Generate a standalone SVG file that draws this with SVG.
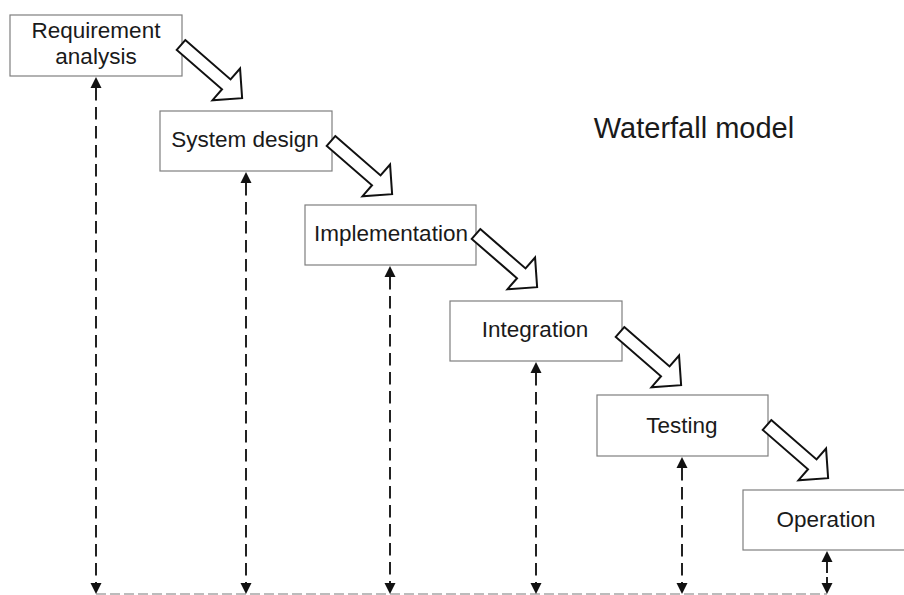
<svg xmlns="http://www.w3.org/2000/svg" width="904" height="595" viewBox="0 0 904 595">
  <style>
    .box { fill: #ffffff; stroke: #7f7f7f; stroke-width: 1.2; }
    .lbl { font-family: "Liberation Sans", Arial, sans-serif; font-size: 22.5px; fill: #1a1a1a; text-anchor: middle; }
    .title { font-family: "Liberation Sans", Arial, sans-serif; font-size: 29px; fill: #1a1a1a; text-anchor: middle; }
    .flow { fill: #ffffff; stroke: #111111; stroke-width: 2; stroke-linejoin: miter; }
    .trace { stroke: #222222; stroke-width: 2; stroke-dasharray: 12.5 6.5; fill: none; }
    .solid { stroke: #222222; stroke-width: 2; fill: none; }
    .base { stroke: #a6a6a6; stroke-width: 1.5; stroke-dasharray: 10 4; fill: none; }
    .head { fill: #111111; stroke: none; }
  </style>
  <defs>
    <!-- hollow block arrow, tail at origin, pointing along +x -->
    <path id="blockArrow" class="flow" d="M0,-6.5 L60,-6.5 L60,-21 L81,0 L60,21 L60,6.5 L0,6.5 Z"/>
    <!-- solid arrowheads, tip at origin -->
    <path id="tipUp" class="head" d="M0,0 L5.5,11 L-5.5,11 Z"/>
    <path id="tipDown" class="head" d="M0,0 L5.5,-11 L-5.5,-11 Z"/>
  </defs>

  <rect width="904" height="595" fill="#ffffff"/>

  <text class="title" x="694" y="138">Waterfall model</text>

  <!-- feedback traces from the baseline up to each phase -->
  <g id="connectors">
    <line class="base" x1="96" y1="594" x2="827" y2="594"/>

    <line class="trace" x1="96" y1="88" x2="96" y2="583"/>
    <use href="#tipUp" x="96" y="77"/>
    <use href="#tipDown" x="96" y="594"/>

    <line class="trace" x1="246" y1="183" x2="246" y2="583"/>
    <use href="#tipUp" x="246" y="172"/>
    <use href="#tipDown" x="246" y="594"/>

    <line class="trace" x1="390" y1="277" x2="390" y2="583"/>
    <use href="#tipUp" x="390" y="266"/>
    <use href="#tipDown" x="390" y="594"/>

    <line class="trace" x1="536" y1="373" x2="536" y2="583"/>
    <use href="#tipUp" x="536" y="362"/>
    <use href="#tipDown" x="536" y="594"/>

    <line class="trace" x1="682" y1="468" x2="682" y2="583"/>
    <use href="#tipUp" x="682" y="457"/>
    <use href="#tipDown" x="682" y="594"/>

    <line class="solid" x1="827" y1="561" x2="827" y2="573"/>
    <use href="#tipUp" x="827" y="551"/>
    <line class="solid" x1="827" y1="577" x2="827" y2="583"/>
    <use href="#tipDown" x="827" y="594"/>
  </g>

  <g id="requirement-analysis">
    <rect class="box" x="10" y="15" width="172" height="61"/>
    <text class="lbl" x="96" y="38">Requirement</text>
    <text class="lbl" x="96" y="64">analysis</text>
  </g>

  <g id="system-design">
    <rect class="box" x="160" y="111" width="172" height="60"/>
    <text class="lbl" x="245" y="147">System design</text>
  </g>

  <g id="implementation">
    <rect class="box" x="305" y="205" width="171" height="60"/>
    <text class="lbl" x="391" y="241">Implementation</text>
  </g>

  <g id="integration">
    <rect class="box" x="450" y="301" width="172" height="60"/>
    <text class="lbl" x="535" y="337">Integration</text>
  </g>

  <g id="testing">
    <rect class="box" x="597" y="395" width="171" height="61"/>
    <text class="lbl" x="682" y="433">Testing</text>
  </g>

  <g id="operation">
    <rect class="box" x="743" y="490" width="172" height="60"/>
    <text class="lbl" x="826" y="527">Operation</text>
  </g>

  <!-- phase-to-phase flow arrows -->
  <g id="flow-arrows">
    <use href="#blockArrow" transform="translate(181,45) rotate(41)"/>
    <use href="#blockArrow" transform="translate(331,141) rotate(41)"/>
    <use href="#blockArrow" transform="translate(476,234) rotate(41)"/>
    <use href="#blockArrow" transform="translate(620,332) rotate(41)"/>
    <use href="#blockArrow" transform="translate(767,425) rotate(41)"/>
  </g>
</svg>
